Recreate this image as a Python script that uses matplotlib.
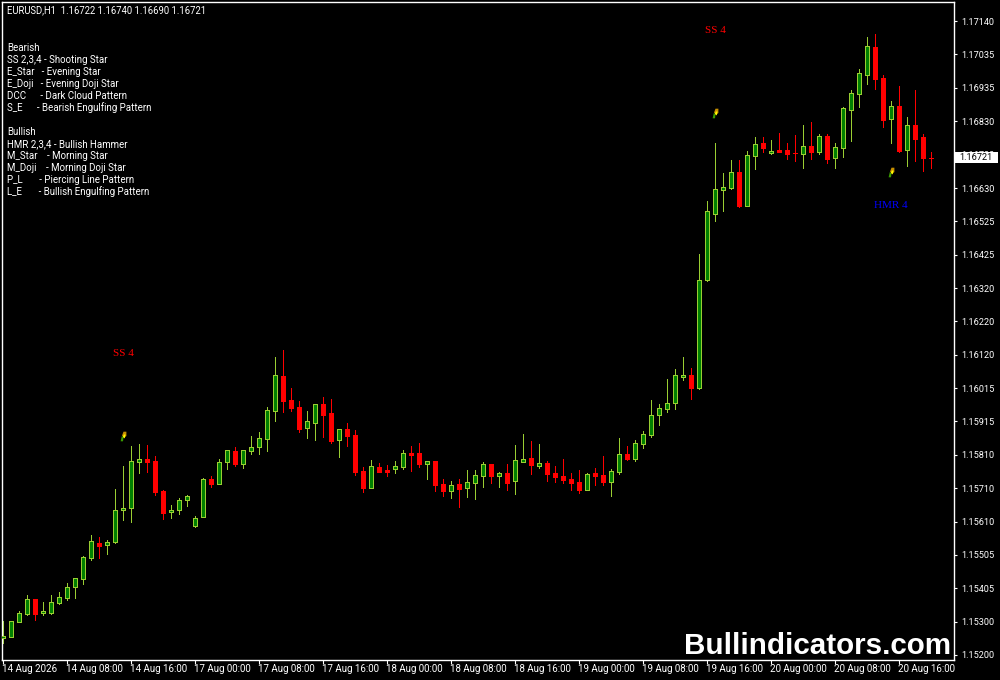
import matplotlib
matplotlib.use("Agg")
import matplotlib.pyplot as plt
from matplotlib.patches import Rectangle
from matplotlib.path import Path

opens = [1.15252,1.15255,1.15301,1.15325,1.15371,1.15328,1.15328,1.15359,1.15374,1.15408,
1.15432,1.15497,1.15542,1.15536,1.15545,1.15643,1.15650,1.15790,1.15799,1.15793,
1.15702,1.15637,1.15643,1.15674,1.15594,1.15622,1.15738,1.15723,1.15790,1.15824,
1.15784,1.15824,1.15836,1.15861,1.15946,1.16053,1.15980,1.15959,1.15894,1.15910,
1.15968,1.15940,1.15858,1.15891,1.15873,1.15763,1.15711,1.15775,1.15766,1.15769,
1.15775,1.15818,1.15818,1.15784,1.15793,1.15723,1.15702,1.15723,1.15711,1.15726,
1.15747,1.15784,1.15747,1.15757,1.15732,1.15790,1.15802,1.15778,1.15787,1.15757,
1.15747,1.15738,1.15729,1.15705,1.15757,1.15751,1.15729,1.15760,1.15815,1.15799,
1.15845,1.15873,1.15934,1.15952,1.15971,1.16050,1.16056,1.16017,1.16347,1.16549,
1.16623,1.16629,1.16678,1.16574,1.16727,1.16766,1.16736,1.16745,1.16745,1.16737,
1.16733,1.16757,1.16739,1.16788,1.16720,1.16751,1.16867,1.16916,1.16975,1.17060,
1.16965,1.16840,1.16880,1.16745,1.16821,1.16785,1.16722]
highs = [1.15304,1.15304,1.15334,1.15383,1.15371,1.15362,1.15383,1.15392,1.15420,1.15435,
1.15503,1.15567,1.15561,1.15552,1.15708,1.15778,1.15839,1.15845,1.15842,1.15809,
1.15705,1.15659,1.15680,1.15689,1.15625,1.15741,1.15747,1.15799,1.15827,1.15836,
1.15827,1.15870,1.15882,1.15959,1.16112,1.16133,1.16017,1.15977,1.15946,1.15968,
1.15989,1.15983,1.15891,1.15910,1.15888,1.15775,1.15796,1.15787,1.15781,1.15793,
1.15827,1.15839,1.15848,1.15793,1.15793,1.15738,1.15732,1.15738,1.15766,1.15766,
1.15790,1.15784,1.15760,1.15784,1.15842,1.15876,1.15855,1.15845,1.15793,1.15778,
1.15799,1.15757,1.15766,1.15757,1.15772,1.15809,1.15769,1.15864,1.15839,1.15858,
1.15885,1.15980,1.15968,1.16044,1.16075,1.16112,1.16078,1.16427,1.16589,1.16766,
1.16675,1.16714,1.16714,1.16742,1.16785,1.16785,1.16775,1.16797,1.16766,1.16791,
1.16821,1.16831,1.16794,1.16794,1.16766,1.16877,1.16929,1.16993,1.17091,1.17100,
1.16975,1.16895,1.16941,1.16846,1.16929,1.16794,1.16740]
lows = [1.15236,1.15255,1.15301,1.15322,1.15307,1.15322,1.15325,1.15356,1.15368,1.15374,
1.15417,1.15490,1.15497,1.15509,1.15542,1.15613,1.15607,1.15757,1.15760,1.15689,
1.15616,1.15619,1.15631,1.15656,1.15591,1.15622,1.15714,1.15723,1.15769,1.15778,
1.15772,1.15815,1.15815,1.15824,1.15916,1.15943,1.15946,1.15882,1.15864,1.15858,
1.15867,1.15848,1.15806,1.15839,1.15751,1.15698,1.15711,1.15760,1.15747,1.15757,
1.15769,1.15763,1.15775,1.15738,1.15702,1.15686,1.15680,1.15653,1.15683,1.15677,
1.15714,1.15726,1.15714,1.15705,1.15692,1.15790,1.15754,1.15772,1.15732,1.15729,
1.15726,1.15705,1.15695,1.15705,1.15720,1.15720,1.15686,1.15754,1.15796,1.15793,
1.15833,1.15867,1.15904,1.15943,1.15952,1.16041,1.15983,1.16014,1.16344,1.16528,
1.16558,1.16626,1.16571,1.16574,1.16687,1.16739,1.16733,1.16739,1.16717,1.16711,
1.16690,1.16717,1.16733,1.16705,1.16690,1.16724,1.16772,1.16877,1.16947,1.16932,
1.16815,1.16766,1.16739,1.16696,1.16711,1.16681,1.16690]
closes = [1.15258,1.15304,1.15328,1.15371,1.15325,1.15334,1.15362,1.15377,1.15408,1.15435,
1.15500,1.15549,1.15533,1.15545,1.15643,1.15650,1.15793,1.15799,1.15790,1.15698,
1.15634,1.15643,1.15674,1.15686,1.15619,1.15738,1.15723,1.15790,1.15827,1.15784,
1.15827,1.15836,1.15864,1.15949,1.16056,1.15977,1.15956,1.15891,1.15916,1.15968,
1.15934,1.15855,1.15891,1.15870,1.15760,1.15711,1.15778,1.15760,1.15760,1.15778,
1.15818,1.15812,1.15784,1.15793,1.15720,1.15702,1.15720,1.15708,1.15729,1.15751,
1.15784,1.15747,1.15757,1.15726,1.15796,1.15799,1.15781,1.15787,1.15754,1.15744,
1.15735,1.15726,1.15705,1.15754,1.15747,1.15729,1.15763,1.15815,1.15799,1.15848,
1.15876,1.15934,1.15956,1.15971,1.16056,1.16056,1.16017,1.16347,1.16558,1.16626,
1.16632,1.16678,1.16574,1.16730,1.16763,1.16751,1.16742,1.16739,1.16733,1.16735,
1.16757,1.16739,1.16788,1.16717,1.16754,1.16873,1.16919,1.16981,1.17063,1.16962,
1.16837,1.16880,1.16742,1.16821,1.16778,1.16720,1.16721]

price_tick_values = [1.15200,1.15302,1.15404,1.15506,1.15608,1.15711,1.15813,1.15915,1.16017,1.16119,
                     1.16221,1.16323,1.16425,1.16527,1.16629,1.16732,1.16834,1.16936,1.17038,1.17140]
price_tick_labels = ["1.15200","1.15300","1.15405","1.15505","1.15610","1.15710","1.15810","1.15915","1.16015","1.16120",
                     "1.16220","1.16320","1.16425","1.16525","1.16630","1.16730","1.16830","1.16935","1.17035","1.17140"]
time_tick_bars = [0,8,16,24,32,40,48,56,64,72,80,88,96,104,112]
time_tick_labels = ["14 Aug 2026","14 Aug 08:00","14 Aug 16:00","17 Aug 00:00","17 Aug 08:00","17 Aug 16:00",
                    "18 Aug 00:00","18 Aug 08:00","18 Aug 16:00","19 Aug 00:00","19 Aug 08:00","19 Aug 16:00",
                    "20 Aug 00:00","20 Aug 08:00","20 Aug 16:00"]
header = "EURUSD,H1  1.16722 1.16740 1.16690 1.16721"
legend_lines = ["Bearish","SS 2,3,4 - Shooting Star","E_Star   - Evening Star","E_Doji   - Evening Doji Star",
                "DCC      - Dark Cloud Pattern","S_E      - Bearish Engulfing Pattern","",
                "Bullish","HMR 2,3,4 - Bullish Hammer","M_Star    - Morning Star","M_Doji    - Morning Doji Star",
                "P_L       - Piercing Line Pattern","L_E       - Bullish Engulfing Pattern"]
pattern_bars = [15, 89, 111]
pattern_labels = ["SS 4", "SS 4", "HMR 4"]
pattern_label_prices = [1.16122, 1.17110, 1.16576]
pattern_label_colors = ["#ff0000", "#ff0000", "#0000ff"]
marker_prices = [1.15869, 1.16858, 1.16677]
last_price = closes[-1]

UI = "Roboto"
FS = 7.0
PRICE_FS = 6.6
GREEN, LIME, RED = "#008000", "#9acd32", "#ff0000"
fig = plt.figure(figsize=(10, 6.8), dpi=100, facecolor="black")
L, R, T, B = 2, 954, 1.5, 659.5
ax = fig.add_axes([L/1000, 1-B/680, (R-L)/1000, (B-T)/680], facecolor="black")
ax.set_xlim(-0.125, 118.875)
ax.set_ylim(1.15200-4.5*3.06e-5, 1.15200+653.5*3.06e-5)

for i, (o, h, l, c) in enumerate(zip(opens, highs, lows, closes)):
    up = c >= o
    edge = LIME if up else RED
    ax.vlines(i, l, h, colors=edge, linewidth=0.72, antialiased=False, zorder=2)
    ax.add_patch(Rectangle((i-0.25, min(o, c)), 0.5, abs(c-o), facecolor=GREEN if up else RED,
                           edgecolor=edge, linewidth=0.72, antialiased=False, zorder=3))

for s in ax.spines.values():
    s.set_color("white"); s.set_linewidth(1.0)
ax.yaxis.tick_right()
ax.set_yticks(price_tick_values, price_tick_labels)
ax.set_xticks(time_tick_bars, [""]*len(time_tick_bars))
ax.tick_params(axis="y", colors="white", length=2.2, width=0.8, pad=2.9, labelsize=PRICE_FS, labelfontfamily=UI)
ax.tick_params(axis="x", colors="white", length=3, width=0.8)
xf = ax.get_xaxis_transform()
for b, t in zip(time_tick_bars, time_tick_labels):
    ax.text(b-0.08, -0.0137, t, transform=xf, color="white", fontsize=FS, family=UI, ha="left", va="center", clip_on=False)

fig.text(7/1000, 1-10.5/680, header, color="white", fontsize=6.85, family=UI, va="center")
for n, line in enumerate(legend_lines):
    if line:
        fig.text(7/1000, 1-(48+12*n)/680, line, color="white", fontsize=FS, family=UI, va="center")

for b, lab, p, col in zip(pattern_bars, pattern_labels, pattern_label_prices, pattern_label_colors):
    ax.text(b, p, lab, color=col, fontsize=8, family="Liberation Serif", ha="center", va="center", zorder=5)

stem = Path([(-0.6,-1),(-0.1,-1),(0.0,-0.2),(-0.35,0.1),(-0.6,-1)], closed=True)
head = Path([(-0.3,0.2),(0,1),(0.6,1),(0.6,0.1),(0.1,-0.3),(-0.3,0.2)], closed=True)
core = Path([(-0.3,-0.2),(0.2,1),(1,1),(0.6,-1),(-0.3,-0.2)], closed=True)
ax.scatter(pattern_bars, marker_prices, s=48, marker=stem, color="#3a9a00", linewidths=0, zorder=5)
ax.scatter(pattern_bars, marker_prices, s=48, marker=head, color="#c89000", linewidths=0, zorder=6)
ax.scatter(pattern_bars, marker_prices, s=8, marker=core, color="#ffff00", linewidths=0, zorder=7)

yf = ax.get_yaxis_transform()
ax.add_patch(Rectangle((1.0015, last_price-5.5*3.06e-5), 0.0446, 11*3.06e-5, transform=yf, facecolor="white",
                       edgecolor="none", clip_on=False, zorder=9))
ax.text(1.0235, last_price, f"{last_price:.5f}", transform=yf, color="black", fontsize=PRICE_FS, family=UI,
        ha="center", va="center", clip_on=False, zorder=10)
fig.text(951/1000, 1-645.5/680, "Bullindicators.com", color="white", fontsize=21.3, fontweight="bold",
         family="Liberation Sans", ha="right", va="center", zorder=20)
fig.savefig("out.png", dpi=100, facecolor="black")
